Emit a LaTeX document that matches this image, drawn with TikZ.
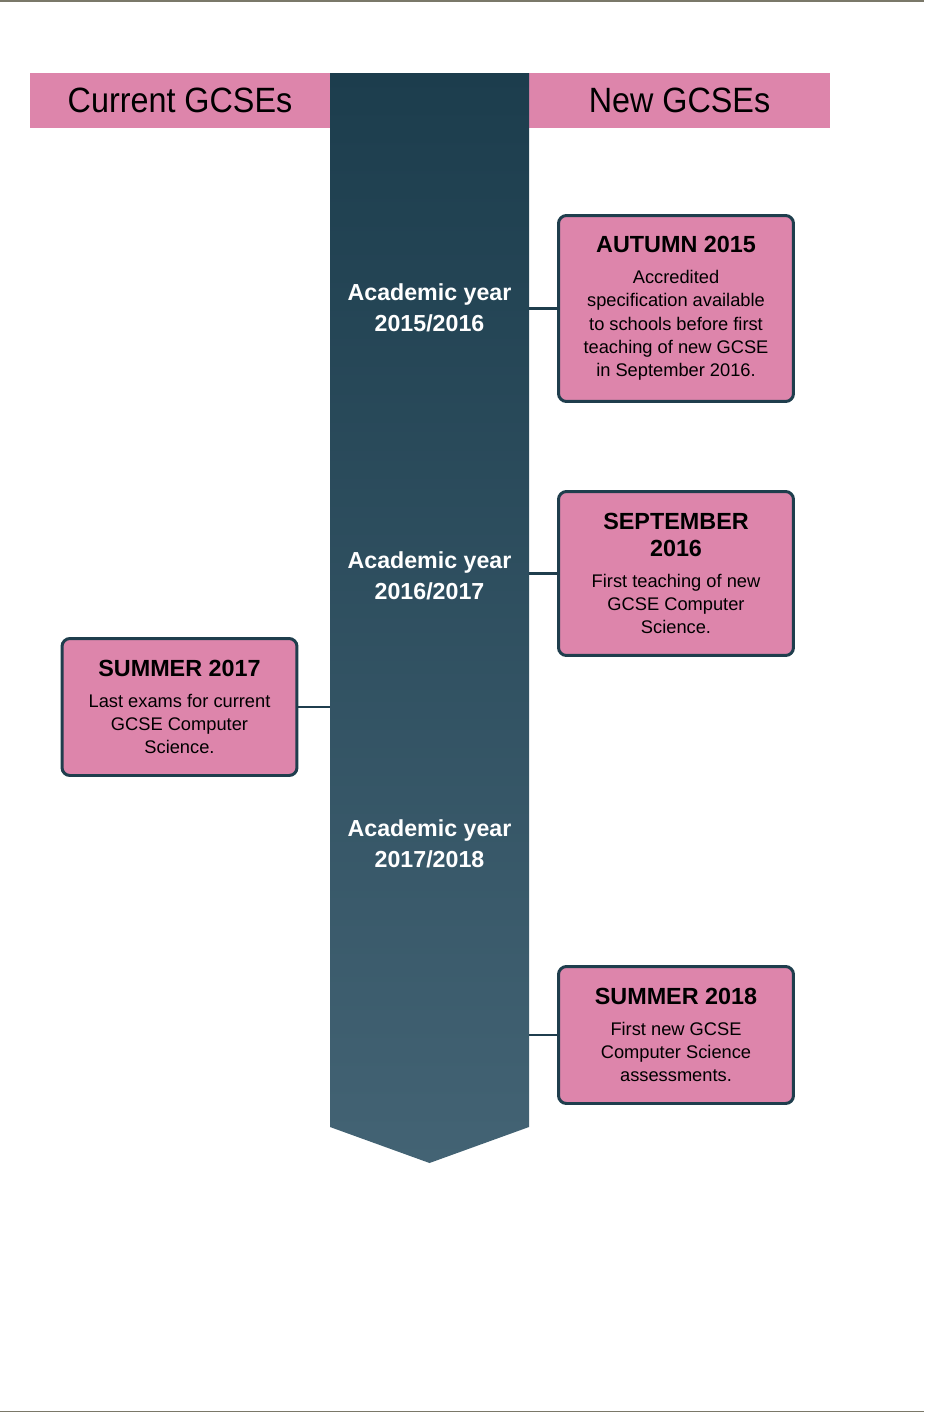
\documentclass[tikz,border=0pt]{standalone}
\usepackage{fontspec}
\setmainfont{Liberation Sans}
\newfontfamily\headfont[FakeStretch=0.92]{Liberation Sans}
\usepackage{tikz}
\definecolor{gcsepink}{HTML}{DD85AB}
\definecolor{coltop}{HTML}{1C3D4D}
\definecolor{colbot}{HTML}{436374}
\definecolor{boxline}{HTML}{1F3E4D}
\definecolor{rulegray}{HTML}{7A7869}
\newcommand{\bodyfont}{\fontsize{10.4}{13.3}\selectfont}
\newcommand{\evtitle}[1]{{\fontsize{13.3}{15.3}\selectfont\bfseries #1}}

\begin{document}
\begin{tikzpicture}[
  x=0.02cm, y=-0.02cm,
  headbar/.style={fill=gcsepink, minimum width=6cm, minimum height=1.1cm, inner sep=0pt,
    font=\headfont\fontsize{20}{24}\selectfont},
  yearlabel/.style={text=white, align=center, font=\bfseries\fontsize{13.2}{17.6}\selectfont},
  event/.style={draw=boxline, line width=1.7pt, fill=gcsepink, rounded corners=4.5pt,
    minimum width=4.70cm, inner sep=2pt, align=center, font=\bodyfont},
  link/.style={draw=boxline, line width=1.4pt},
]
\useasboundingbox (0,0) rectangle (924,1413);
% page rules
\draw[rulegray, line width=1.1pt] (0,1) -- (924,1);
\draw[rulegray, line width=1.1pt] (0,1411.5) -- (924,1411.5);

% header bar
\node[headbar] (curhead) at (180,100.5) {Current GCSEs};
\node[headbar, minimum width=6.02cm] (newhead) at (679.5,100.5) {New GCSEs};

% timeline column with arrow point
\def\xL{330}\def\xR{529}\def\xM{429.5}
\shade[top color=coltop, bottom color=colbot]
  (\xL,73) -- (\xR,73) -- (\xR,1127) -- (\xM,1163) -- (\xL,1127) -- cycle;
\coordinate (colL) at (\xL,0);
\coordinate (colR) at (\xR,0);

\node[yearlabel] (yr15) at (\xM,307.5) {Academic year\\2015/2016};
\node[yearlabel] (yr16) at (\xM,575.5) {Academic year\\2016/2017};
\node[yearlabel] (yr17) at (\xM,844)   {Academic year\\2017/2018};

% new GCSE events
\node[event, minimum height=3.72cm] (aut15) at (676,308.5)
  {\evtitle{AUTUMN 2015}\\[4.3pt]Accredited\\specification available\\to schools before first\\teaching of new GCSE\\in September 2016.};
\node[event, minimum height=3.28cm] (sep16) at (676,573.5)
  {\evtitle{SEPTEMBER}\\[2pt]\evtitle{2016}\\[4.3pt]First teaching of new\\GCSE Computer\\Science.};
\node[event, minimum height=2.74cm] (sum18) at (676,1035)
  {\evtitle{SUMMER 2018}\\[4.3pt]First new GCSE\\Computer Science\\assessments.};
% current GCSE event
\node[event, minimum height=2.74cm] (sum17) at (179.5,707)
  {\evtitle{SUMMER 2017}\\[4.3pt]Last exams for current\\GCSE Computer\\Science.};

\draw[link] (aut15.west) -- (aut15.west -| colR);
\draw[link] (sep16.west) -- (sep16.west -| colR);
\draw[link] (sum18.west) -- (sum18.west -| colR);
\draw[link] (sum17.east) -- (sum17.east -| colL);
\end{tikzpicture}
\end{document}
